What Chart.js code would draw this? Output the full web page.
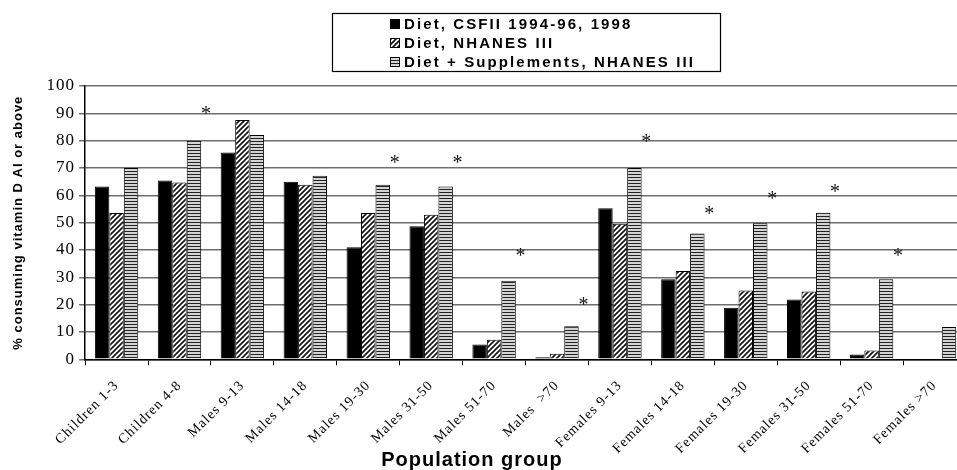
<!DOCTYPE html>
<html>
<head>
    <title>Vitamin D AI by population group</title>
    <script src="https://cdn.jsdelivr.net/npm/chart.js"></script>
    <style>
        html, body { margin: 0; padding: 0; background: #fff; overflow: hidden; }
        #wrap { position: relative; width: 972px; height: 470px; }
    </style>
</head>
<body>
    <div id="wrap"><canvas id="myChart"></canvas></div>

    <script>
        // data
        const groups = ['Children 1-3', 'Children 4-8', 'Males 9-13', 'Males 14-18', 'Males 19-30',
            'Males 31-50', 'Males 51-70', 'Males  >70', 'Females 9-13', 'Females 14-18',
            'Females 19-30', 'Females 31-50', 'Females 51-70', 'Females >70'];
        const dietCsfii = [63.2, 65.4, 75.7, 65.0, 41.0, 48.7, 5.4, 0.8, 55.3, 29.3, 18.9, 21.9, 1.8, 0];
        const dietNhanes = [53.5, 64.7, 87.6, 63.9, 53.5, 52.9, 7.2, 2.1, 49.6, 32.3, 25.2, 24.8, 3.2, 0];
        const suppNhanes = [70.0, 80.0, 82.1, 67.2, 63.9, 63.2, 28.8, 12.1, 70.0, 46.0, 49.8, 53.6, 29.3, 11.8];
        // height of the significance asterisk for each group (null = none)
        const starLevel = [null, 91, null, null, 73, 73, 39, 21, 80.7, 54.4, 60, 62.4, 39, 21];
        const yTicks = [0, 10, 20, 30, 40, 50, 60, 70, 80, 90, 100];

        const seriesNames = ['Diet, CSFII 1994-96, 1998', 'Diet, NHANES III', 'Diet + Supplements, NHANES III'];
        const xTitle = 'Population group';

        function hatchPattern() {
            const c = document.createElement('canvas');
            c.width = 5; c.height = 5;
            const g = c.getContext('2d');
            g.fillStyle = '#fff';
            g.fillRect(0, 0, 5, 5);
            g.strokeStyle = '#111';
            g.lineWidth = 1.6;
            g.beginPath();
            g.moveTo(-1, 6); g.lineTo(6, -1);
            g.moveTo(-1, 1); g.lineTo(1, -1);
            g.moveTo(4, 6); g.lineTo(6, 4);
            g.stroke();
            return g.createPattern(c, 'repeat');
        }

        function stripePattern() {
            const c = document.createElement('canvas');
            c.width = 4; c.height = 3;
            const g = c.getContext('2d');
            g.fillStyle = '#d4d4d4';
            g.fillRect(0, 0, 4, 3);
            g.fillStyle = '#222';
            g.fillRect(0, 0, 4, 1);
            return g.createPattern(c, 'repeat');
        }

        const fills = ['#000', hatchPattern(), stripePattern()];

        // the scanned figure is stretched sideways, so widen all text a little
        const wideText = {
            id: 'wideText',
            beforeUpdate(chart) { chart.ctx.letterSpacing = '1px'; },
            beforeDraw(chart) { chart.ctx.letterSpacing = '1px'; }
        };

        // boxed legend, one entry per line, plus the x axis caption
        const boxLegend = {
            id: 'boxLegend',
            afterDraw(chart) {
                const ctx = chart.ctx;
                const area = chart.chartArea;
                const w = 388, h = 58;
                const left = Math.round((area.left + area.right) / 2 - w / 2);
                const top = 13;
                ctx.save();
                ctx.strokeStyle = '#000';
                ctx.lineWidth = 1.2;
                ctx.strokeRect(left + 0.5, top + 0.5, w, h);
                ctx.font = 'bold 15px "Liberation Sans", Arial, sans-serif';
                ctx.letterSpacing = '2.1px';
                ctx.textBaseline = 'middle';
                seriesNames.forEach((name, i) => {
                    const y = top + 11 + i * 19;
                    const sx = left + 58;
                    ctx.fillStyle = fills[i];
                    ctx.fillRect(sx, y - 5, 10, 10);
                    ctx.strokeStyle = '#000';
                    ctx.lineWidth = 1;
                    ctx.strokeRect(sx + 0.5, y - 4.5, 9, 9);
                    ctx.fillStyle = '#000';
                    ctx.fillText(name, sx + 14, y + 1);
                });

                // caption sits under the labels, centred on the page rather than the plot
                ctx.font = 'bold 20px "Liberation Sans", Arial, sans-serif';
                ctx.letterSpacing = '1px';
                ctx.textAlign = 'center';
                ctx.fillText(xTitle, 472, chart.height - 10);
                ctx.restore();
            }
        };

        // asterisks marking significant differences
        const stars = {
            id: 'stars',
            afterDatasetsDraw(chart) {
                const ctx = chart.ctx;
                const xs = chart.scales.x, ys = chart.scales.y;
                const step = xs.getPixelForValue(1) - xs.getPixelForValue(0);
                ctx.save();
                ctx.font = '20px "Liberation Serif", "Times New Roman", serif';
                ctx.letterSpacing = '0px';
                ctx.textAlign = 'center';
                ctx.textBaseline = 'middle';
                ctx.fillStyle = '#111';
                starLevel.forEach((v, i) => {
                    if (v === null) return;
                    const x = xs.getPixelForValue(i) + step * 0.42;
                    const y = ys.getPixelForValue(v);
                    ctx.fillText('*', x, y + 4);
                });
                ctx.restore();
            }
        };

        document.addEventListener('DOMContentLoaded', function () {
            const ctx = document.getElementById('myChart').getContext('2d');
            const myChart = new Chart(ctx, {
                type: 'bar',
                data: {
                    labels: groups,
                    datasets: [dietCsfii, dietNhanes, suppNhanes].map((vals, i) => ({
                        label: seriesNames[i],
                        data: vals,
                        backgroundColor: fills[i],
                        borderColor: '#000',
                        borderWidth: 1,
                        categoryPercentage: 0.69,
                        barPercentage: 1.0,
                    })),
                },
                options: {
                    responsive: true,
                    maintainAspectRatio: false,
                    animation: false,
                    layout: { padding: { top: 86, right: 6, left: 11, bottom: 1 } },
                    plugins: {
                        legend: { display: false },
                        tooltip: { enabled: false },
                    },
                    scales: {
                        x: {
                            grid: {
                                offset: true,
                                drawOnChartArea: false,
                                drawTicks: true,
                                tickLength: 6,
                                color: '#000',
                            },
                            border: { color: '#000', width: 1.5 },
                            ticks: {
                                color: '#000',
                                padding: 12,
                                maxRotation: 45,
                                minRotation: 45,
                                autoSkip: false,
                                font: { family: '"Liberation Serif", "Times New Roman", serif', size: 14 },
                            },
                        },
                        y: {
                            min: 0,
                            max: 100,
                            afterBuildTicks: axis => { axis.ticks = yTicks.map(v => ({ value: v })); },
                            grid: { color: '#6e6e6e', lineWidth: 1.5, tickLength: 6 },
                            border: { color: '#000', width: 1.5 },
                            ticks: {
                                color: '#000',
                                padding: 4,
                                font: { family: '"Liberation Serif", "Times New Roman", serif', size: 17 },
                            },
                            title: {
                                display: true,
                                text: '% consuming vitamin D AI or above',
                                color: '#000',
                                font: { family: '"Liberation Sans", Arial, sans-serif', size: 13, weight: 'bold' },
                                padding: { top: 0, bottom: 16 },
                            },
                        },
                    },
                },
                plugins: [wideText, boxLegend, stars],
            });
        });
    </script>
</body>
</html>
